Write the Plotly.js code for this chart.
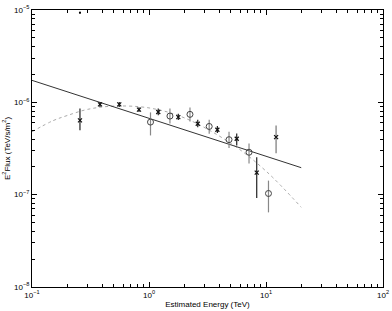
<!DOCTYPE html>
<html>
<head>
<meta charset="utf-8">
<script src="https://cdn.plot.ly/plotly-3.0.1.min.js"></script>
<style>html,body{margin:0;padding:0;background:#fff;}#chart{width:392px;height:311px;}</style>
</head>
<body>
<div id="chart"></div>
<script>
// Crosses (dark error bars)
const crossEnergy = [0.257, 0.381, 0.557, 0.821, 1.20, 1.78, 2.61, 3.84, 5.62, 8.33];
const crossFlux   = [6.37e-7, 9.5e-7, 9.5e-7, 8.34e-7, 7.85e-7, 6.92e-7, 5.86e-7, 5.05e-7, 4.03e-7, 1.73e-7];
const crossErrUp  = [2.2e-7, 6e-8, 6e-8, 5e-8, 7e-8, 6e-8, 6e-8, 5e-8, 5.7e-8, 8.1e-8];
const crossErrDn  = [1.4e-7, 6e-8, 6e-8, 5e-8, 6e-8, 5e-8, 5e-8, 4e-8, 6.2e-8, 8.1e-8];
// Cross with gray error bar
const cross2Energy = [12.2];
const cross2Flux   = [4.2e-7];
const cross2ErrUp  = [1.42e-7];
const cross2ErrDn  = [1.39e-7];
// Open circles (gray error bars)
const circEnergy = [1.03, 1.51, 2.24, 3.27, 4.83, 7.16, 10.5];
const circFlux   = [6.11e-7, 7.1e-7, 7.41e-7, 5.48e-7, 3.94e-7, 2.88e-7, 1.03e-7];
const circErrUp  = [1.67e-7, 1.5e-7, 1.4e-7, 1.0e-7, 8.6e-8, 7.0e-8, 3.9e-8];
const circErrDn  = [1.73e-7, 1.2e-7, 1.2e-7, 0.9e-7, 7.4e-8, 7.1e-8, 3.87e-8];
// Power-law fit (solid)
const fitEnergy = [0.1, 20];
const fitFlux   = [1.73e-6, 1.96e-7];
// Curved fit (dotted)
const curveEnergy = [0.1, 0.15, 0.2, 0.3, 0.5, 1, 2, 5, 10, 20];
const curveFlux   = [4.8e-7, 6.3e-7, 7.2e-7, 8.4e-7, 9.1e-7, 8.7e-7, 6.8e-7, 3.6e-7, 1.8e-7, 7.3e-8];
// Stray point near top
const dotEnergy = [0.257];
const dotFlux = [9.35e-6];
// Tick positions and labels
const xMajorTicks = [0.1, 1, 10, 100];
const xTickText = ['10<sup>−1</sup>', '10<sup>0</sup>', '10<sup>1</sup>', '10<sup>2</sup>'];
const yMajorTicks = [1e-8, 1e-7, 1e-6, 1e-5];
const yTickText = ['10<sup>−8</sup>', '10<sup>−7</sup>', '10<sup>−6</sup>', '10<sup>−5</sup>'];
const xMinorTicks = [0.2,0.3,0.4,0.5,0.6,0.7,0.8,0.9,2,3,4,5,6,7,8,9,20,30,40,50,60,70,80,90];
const yMinorTicks = [2e-8,3e-8,4e-8,5e-8,6e-8,7e-8,8e-8,9e-8,2e-7,3e-7,4e-7,5e-7,6e-7,7e-7,8e-7,9e-7,2e-6,3e-6,4e-6,5e-6,6e-6,7e-6,8e-6,9e-6];

const traces = [
  {x: curveEnergy, y: curveFlux, mode: 'lines', line: {color: '#aaa', width: 1, dash: 'dot', shape: 'spline'}, hoverinfo: 'none'},
  {x: fitEnergy, y: fitFlux, mode: 'lines', line: {color: '#333', width: 1}, hoverinfo: 'none'},
  {x: circEnergy, y: circFlux, mode: 'markers',
   marker: {symbol: 'circle-open', size: 6, color: '#444', line: {width: 1, color: '#444'}},
   error_y: {type: 'data', symmetric: false, array: circErrUp, arrayminus: circErrDn, color: '#888', thickness: 1.2, width: 0}},
  {x: crossEnergy, y: crossFlux, mode: 'markers',
   marker: {symbol: 'x-thin-open', size: 4, color: '#111', line: {width: 1.2, color: '#111'}},
   error_y: {type: 'data', symmetric: false, array: crossErrUp, arrayminus: crossErrDn, color: '#222', thickness: 1.2, width: 0}},
  {x: cross2Energy, y: cross2Flux, mode: 'markers',
   marker: {symbol: 'x-thin-open', size: 4, color: '#111', line: {width: 1.2, color: '#111'}},
   error_y: {type: 'data', symmetric: false, array: cross2ErrUp, arrayminus: cross2ErrDn, color: '#999', thickness: 1.6, width: 0}},
  {x: dotEnergy, y: dotFlux, mode: 'markers', marker: {symbol: 'square', size: 2, color: '#000'}}
];

const font = 'Liberation Sans, Arial, sans-serif';
const axisCommon = {
  type: 'log', showgrid: false, zeroline: false,
  showline: true, linecolor: '#000', linewidth: 1, mirror: 'ticks',
  ticks: 'inside', ticklen: 5, tickcolor: '#000', tickwidth: 1,
  tickmode: 'array',
  tickfont: {family: font, size: 8, color: '#000'}
};
const minorCommon = {tickmode: 'array', ticks: 'inside', ticklen: 3, tickcolor: '#000', tickwidth: 1, showgrid: false};

const layout = {
  width: 392, height: 311,
  margin: {l: 32, r: 9, t: 10, b: 24},
  paper_bgcolor: '#fff', plot_bgcolor: '#fff',
  showlegend: false,
  font: {family: font, size: 8, color: '#000'},
  xaxis: Object.assign({}, axisCommon, {
    range: [-1, 2], tickvals: xMajorTicks, ticktext: xTickText,
    minor: Object.assign({tickvals: xMinorTicks}, minorCommon),
    title: {text: 'Estimated Energy (TeV)', font: {size: 8}, standoff: 2}
  }),
  yaxis: Object.assign({}, axisCommon, {
    range: [-8, -5], tickvals: yMajorTicks, ticktext: yTickText,
    minor: Object.assign({tickvals: yMinorTicks}, minorCommon),
    title: {text: 'E<sup>2</sup>Flux (TeV/s/m<sup>2</sup>)', font: {size: 8}, standoff: 2}
  })
};

Plotly.newPlot('chart', traces, layout, {staticPlot: true, displayModeBar: false});
</script>
</body>
</html>
